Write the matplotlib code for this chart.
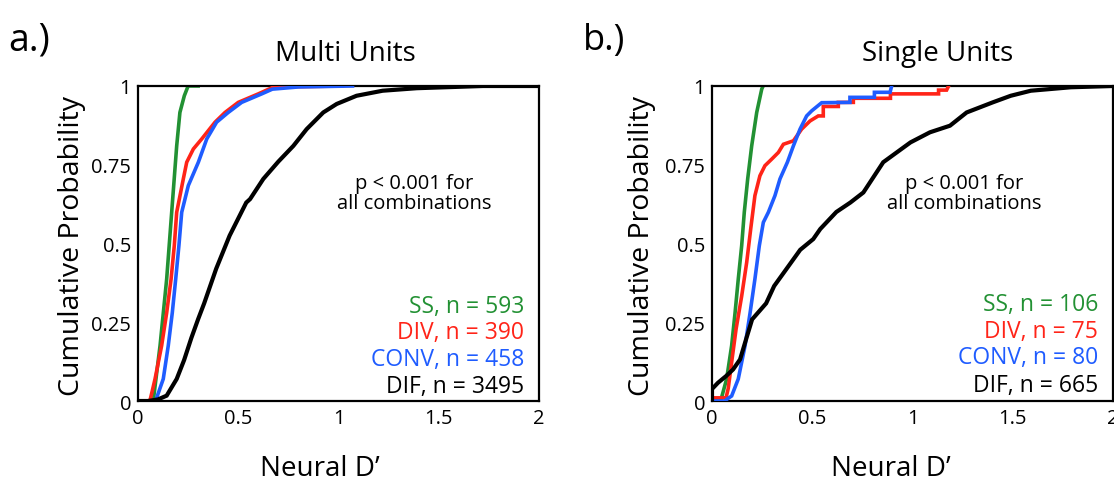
import matplotlib
matplotlib.use("Agg")
import matplotlib.pyplot as plt

plt.rcParams['font.family'] = ['Open Sans', 'DejaVu Sans']

# ---------------- data ----------------
# Multi units
mu_ss_x = [0.0, 0.070, 0.076, 0.110, 0.143, 0.168, 0.193, 0.209, 0.231, 0.250, 0.300]
mu_ss_p = [0.0, 0.0, 0.0, 0.176, 0.387, 0.599, 0.810, 0.916, 0.969, 1.0, 1.0]

mu_div_x = [0.0, 0.058, 0.063, 0.085, 0.118, 0.143, 0.165, 0.181, 0.193, 0.226, 0.243,
            0.276, 0.318, 0.384, 0.434, 0.500, 0.600, 0.670, 0.800, 1.020]
mu_div_p = [0.0, 0.0, 0.01, 0.07, 0.176, 0.28, 0.387, 0.493, 0.599, 0.705, 0.758,
            0.80, 0.832, 0.885, 0.916, 0.948, 0.975, 0.995, 0.998, 1.0]

mu_conv_x = [0.0, 0.085, 0.093, 0.126, 0.151, 0.171, 0.188, 0.204, 0.218, 0.251, 0.301,
             0.343, 0.392, 0.450, 0.517, 0.617, 0.670, 0.800, 1.070]
mu_conv_p = [0.0, 0.0, 0.01, 0.07, 0.176, 0.28, 0.387, 0.493, 0.599, 0.684, 0.758,
             0.832, 0.885, 0.916, 0.948, 0.975, 0.99, 0.997, 1.0]

mu_dif_x = [0.0, 0.05, 0.10, 0.143, 0.193, 0.23, 0.266, 0.30, 0.33, 0.39, 0.457, 0.54,
            0.559, 0.625, 0.70, 0.775, 0.841, 0.924, 0.991, 1.09, 1.22, 1.39, 1.72, 2.0]
mu_dif_p = [0.0, 0.0, 0.005, 0.017, 0.07, 0.13, 0.20, 0.26, 0.31, 0.42, 0.525, 0.63,
            0.641, 0.705, 0.76, 0.81, 0.863, 0.916, 0.943, 0.969, 0.985, 0.993, 1.0, 1.0]

# Single units
su_ss_x = [0.0, 0.043, 0.073, 0.098, 0.115, 0.131, 0.148, 0.161, 0.178, 0.198, 0.223, 0.248, 0.255]
su_ss_p = [0.0, 0.0, 0.07, 0.176, 0.28, 0.387, 0.493, 0.599, 0.705, 0.81, 0.916, 0.99, 1.0]

su_div_x = [0.0, 0.07, 0.081, 0.098, 0.12, 0.148, 0.173, 0.193, 0.214, 0.239, 0.264, 0.298,
            0.331, 0.356, 0.406, 0.447, 0.489, 0.53, 0.555, 0.555, 0.63, 0.63, 0.705, 0.705,
            0.89, 0.89, 1.13, 1.13, 1.17, 1.18]
su_div_p = [0.01, 0.01, 0.04, 0.123, 0.228, 0.333, 0.44, 0.546, 0.652, 0.715, 0.747, 0.768,
            0.789, 0.815, 0.826, 0.863, 0.889, 0.905, 0.905, 0.935, 0.935, 0.948, 0.948, 0.961,
            0.961, 0.975, 0.975, 0.987, 0.987, 1.0]

su_conv_x = [0.0, 0.065, 0.073, 0.098, 0.131, 0.165, 0.19, 0.214, 0.236, 0.256, 0.281, 0.314,
             0.339, 0.376, 0.406, 0.439, 0.472, 0.497, 0.547, 0.688, 0.688, 0.81, 0.81, 0.888, 0.896]
su_conv_p = [0.0, 0.0, 0.005, 0.016, 0.07, 0.176, 0.28, 0.387, 0.493, 0.567, 0.599, 0.652,
             0.705, 0.758, 0.81, 0.863, 0.905, 0.921, 0.947, 0.948, 0.964, 0.964, 0.98, 0.98, 1.0]

su_dif_x = [0.0, 0.0, 0.03, 0.07, 0.105, 0.14, 0.17, 0.20, 0.27, 0.31, 0.37, 0.44, 0.505, 0.54,
            0.62, 0.69, 0.755, 0.854, 0.99, 1.087, 1.187, 1.27, 1.40, 1.49, 1.59, 1.79, 2.0]
su_dif_p = [0.0, 0.038, 0.058, 0.079, 0.10, 0.132, 0.196, 0.259, 0.31, 0.365, 0.418, 0.48, 0.514,
            0.546, 0.60, 0.63, 0.662, 0.758, 0.821, 0.853, 0.874, 0.916, 0.948, 0.969, 0.985, 0.996, 1.0]

series_names = ["SS", "DIV", "CONV", "DIF"]
mu_counts = [593, 390, 458, 3495]
su_counts = [106, 75, 80, 665]

x_ticks = [0, 0.5, 1, 1.5, 2]
x_ticklabels = ["0", "0.5", "1", "1.5", "2"]
y_ticks = [0, 0.25, 0.5, 0.75, 1]
y_ticklabels = ["0", "0.25", "0.5", "0.75", "1"]

# ---------------- styling ----------------
colors = ["#229133", "#ff2418", "#1f5cff", "#000000"]
W, H = 1114, 485

fig = plt.figure(figsize=(W / 100, H / 100), dpi=100)


def fx(x):
    return x / W


def fy(y):
    return 1 - y / H


ax_l = fig.add_axes([fx(138), fy(402), (539 - 138) / W, (402 - 87) / H])
ax_r = fig.add_axes([fx(712), fy(402), (1113 - 712) / W, (402 - 87) / H])

panels = [
    (ax_l, [(mu_ss_x, mu_ss_p), (mu_div_x, mu_div_p), (mu_conv_x, mu_conv_p), (mu_dif_x, mu_dif_p)],
     mu_counts),
    (ax_r, [(su_ss_x, su_ss_p), (su_div_x, su_div_p), (su_conv_x, su_conv_p), (su_dif_x, su_dif_p)],
     su_counts),
]

for ax, curves, counts in panels:
    for i, (xs, ps) in enumerate(curves):
        ax.plot(xs, ps, color=colors[i], lw=2.6 if i < 3 else 3.0,
                solid_joinstyle='miter', zorder=2 + i)
    ax.set_xlim(0, 2)
    ax.set_ylim(0, 1)
    ax.set_xticks(x_ticks)
    ax.set_xticklabels(x_ticklabels)
    ax.set_yticks(y_ticks)
    ax.set_yticklabels(y_ticklabels)
    ax.tick_params(length=0, labelsize=14.5, pad=5)
    for s in ax.spines.values():
        s.set_linewidth(1.6)
        s.set_color('black')

# titles, panel letters, axis labels
fig.text(fx(345), fy(61), "Multi Units", ha='center', va='baseline', fontsize=20)
fig.text(fx(938), fy(61), "Single Units", ha='center', va='baseline', fontsize=20)
fig.text(fx(8), fy(50), "a.)", ha='left', va='baseline', fontsize=27)
fig.text(fx(583), fy(50), "b.)", ha='left', va='baseline', fontsize=26)
fig.text(fx(320), fy(476), "Neural D\u2019", ha='center', va='baseline', fontsize=20)
fig.text(fx(891), fy(476), "Neural D\u2019", ha='center', va='baseline', fontsize=20)
fig.text(fx(72), fy(246), "Cumulative Probability", ha='center', va='center',
         rotation=90, fontsize=20.5)
fig.text(fx(642), fy(246), "Cumulative Probability", ha='center', va='center',
         rotation=90, fontsize=20.5)

# annotations
fig.text(fx(414), fy(194), "p < 0.001 for\nall combinations", ha='center', va='center',
         fontsize=14.5, linespacing=1.0, multialignment='center')
fig.text(fx(964), fy(194), "p < 0.001 for\nall combinations", ha='center', va='center',
         fontsize=14.5, linespacing=1.0, multialignment='center')

# legend text
left_rows = [307, 333, 360, 387]
right_rows = [305, 332, 358, 386]
for i in range(4):
    fig.text(fx(524), fy(left_rows[i]), f"{series_names[i]}, n = {mu_counts[i]}",
             ha='right', va='center', fontsize=16.5, color=colors[i])
    fig.text(fx(1098), fy(right_rows[i]), f"{series_names[i]}, n = {su_counts[i]}",
             ha='right', va='center', fontsize=16.5, color=colors[i])

fig.savefig("out.png", dpi=100)
